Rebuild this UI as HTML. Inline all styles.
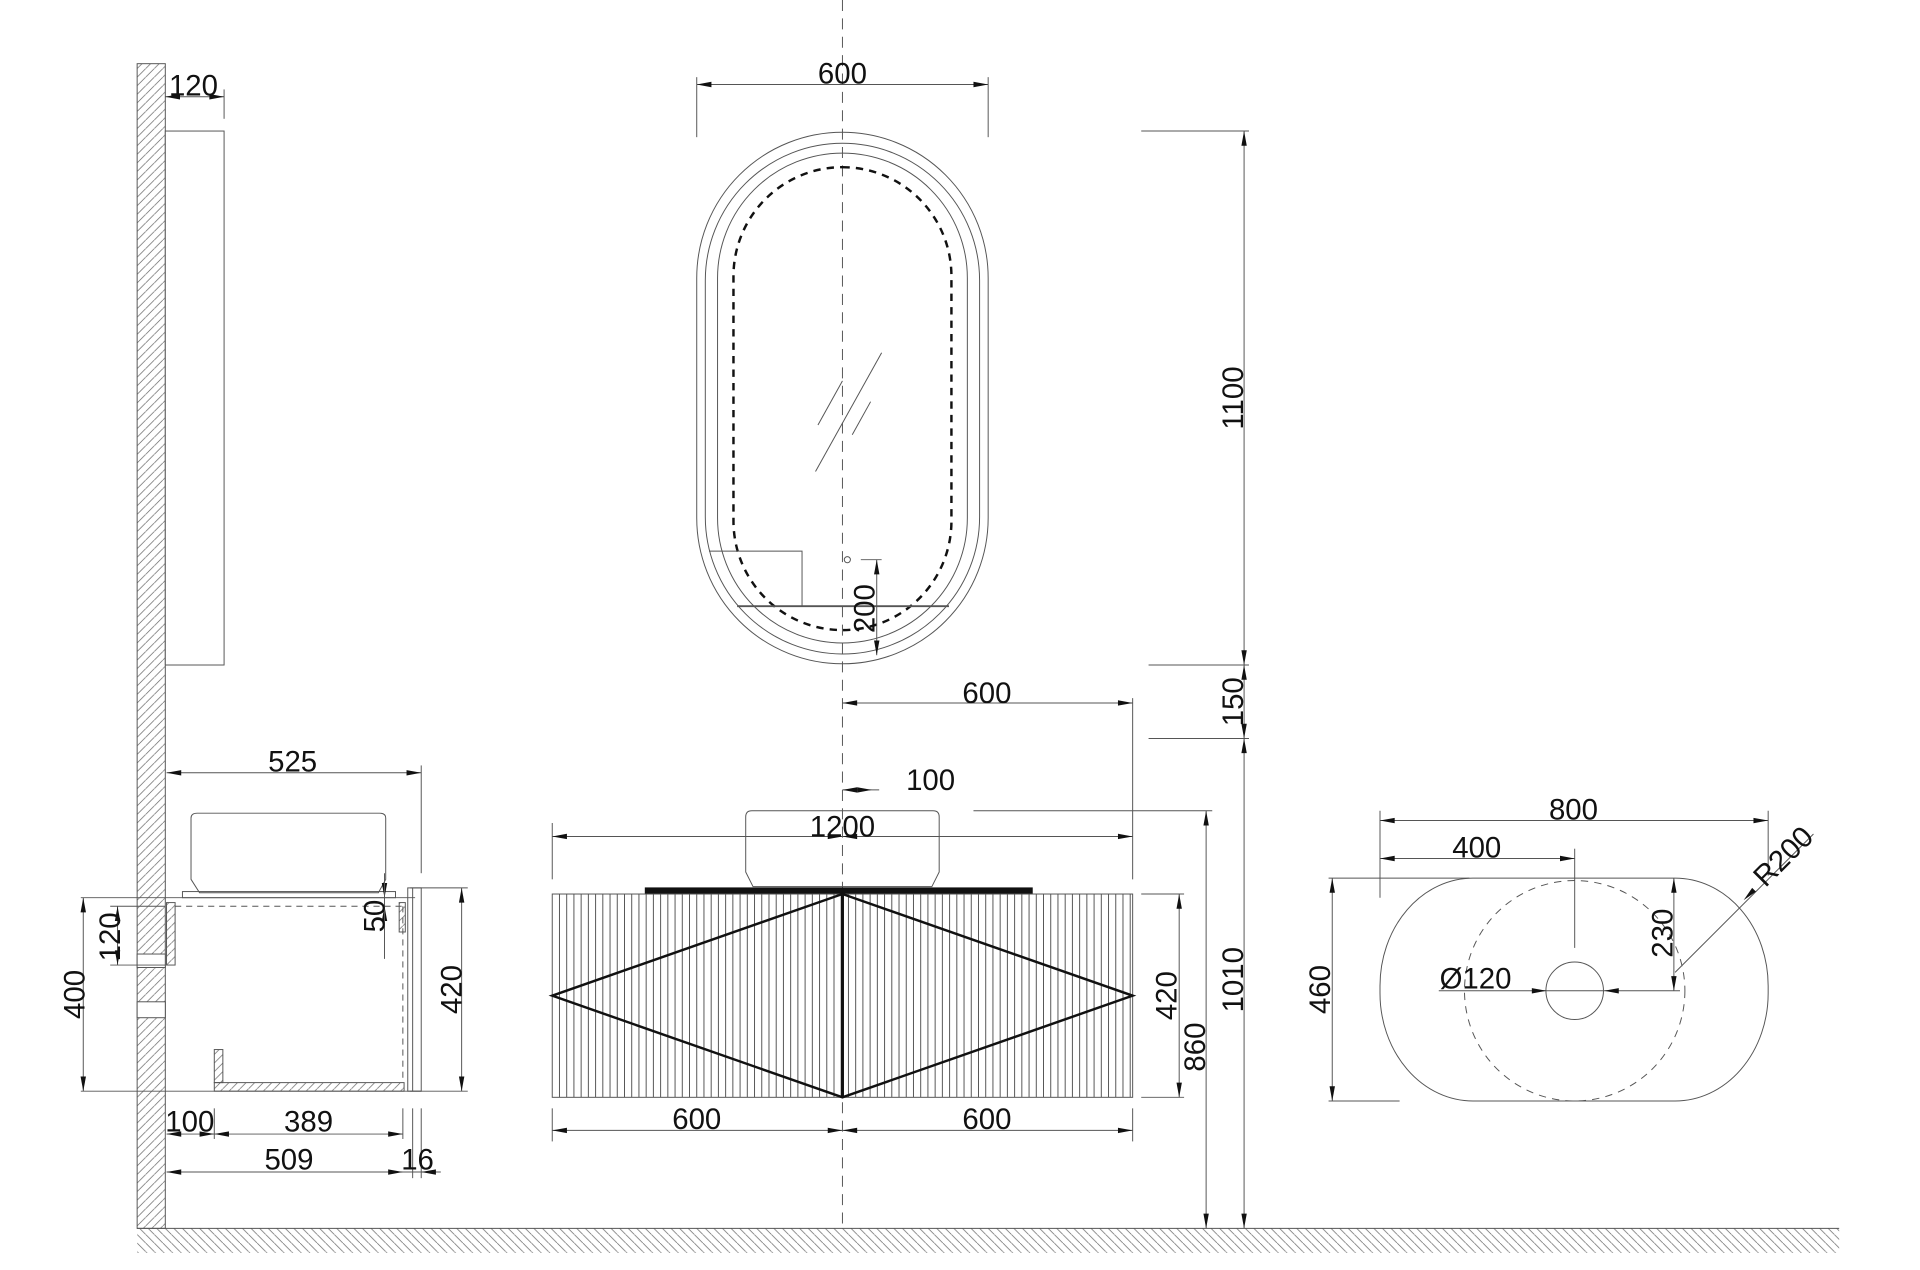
<!DOCTYPE html>
<html><head><meta charset="utf-8"><style>
html,body{margin:0;padding:0;background:#fff;width:1920px;height:1270px;overflow:hidden}
svg{display:block}
text{font-family:"Liberation Sans",Arial,sans-serif;font-size:24px;fill:#111}
</style></head><body>
<svg id="s" width="1920" height="1270" viewBox="0 0 1568 1037" preserveAspectRatio="none" xmlns="http://www.w3.org/2000/svg">
<defs>
<pattern id="hw" width="7" height="7" patternUnits="userSpaceOnUse"><path d="M-1,8 L8,-1" stroke="#666" stroke-width="0.6"/></pattern>
<pattern id="hg" width="7" height="7" patternUnits="userSpaceOnUse"><path d="M-1,-1 L8,8" stroke="#666" stroke-width="0.6"/></pattern>
</defs>
<g id="g" fill="none" stroke="#555" stroke-width="0.8">
<rect x="112" y="52" width="23" height="951" fill="url(#hw)" stroke="#555"/>
<rect x="112" y="1003" width="1390" height="20" fill="url(#hg)" stroke="none"/>
<line x1="112" y1="1003" x2="1502" y2="1003"/>
<rect x="112" y="779" width="23" height="11" fill="#fff" stroke="#555"/>
<rect x="112" y="818" width="23" height="13" fill="#fff" stroke="#555"/>
<rect x="135" y="107" width="48" height="436" fill="#fff"/>
<line x1="183" y1="73" x2="183" y2="97"/>
<line x1="688" y1="0" x2="688" y2="1003" stroke-dasharray="9,6"/>
<rect x="569" y="108" width="238" height="434" rx="119" ry="119"/>
<rect x="576" y="117" width="224" height="417" rx="112" ry="112"/>
<rect x="586" y="125" width="204" height="400" rx="102" ry="102"/>
<rect x="599" y="136.5" width="178" height="378" rx="89" ry="89" stroke="#111" stroke-width="2" stroke-dasharray="6,5"/>
<line x1="666" y1="385" x2="720" y2="288"/>
<line x1="668" y1="347" x2="688" y2="311"/>
<line x1="696" y1="355" x2="711" y2="328"/>
<polyline points="579,450 655,450 655,495"/>
<line x1="602" y1="495" x2="775" y2="495" stroke-width="1.5"/>
<circle cx="692" cy="457" r="2.5"/>
<line x1="703" y1="457" x2="720" y2="457"/>
<line x1="569" y1="63" x2="569" y2="112"/>
<line x1="807" y1="63" x2="807" y2="112"/>
<line x1="932" y1="107" x2="1020" y2="107"/>
<line x1="938" y1="543" x2="1020" y2="543"/>
<line x1="938" y1="603" x2="1020" y2="603"/>
<line x1="925" y1="570" x2="925" y2="718"/>
<line x1="451" y1="672" x2="451" y2="718"/>
<path d="M609,667 Q609,662 614,662 L762,662 Q767,662 767,667 L767,712 L761,724 L615,724 L609,712 Z"/>
<line x1="795" y1="662" x2="990" y2="662"/>
<rect x="527" y="725" width="316" height="5" fill="#111" stroke="#111"/>
<g id="flutes"></g>
<rect x="451" y="730" width="474" height="166"/>
<polygon points="451,813 688,730 925,813 688,896" stroke="#111" stroke-width="2"/>
<line x1="688" y1="730" x2="688" y2="896" stroke="#111" stroke-width="2.5"/>
<line x1="932" y1="730" x2="967" y2="730"/>
<line x1="932" y1="896" x2="967" y2="896"/>
<line x1="451" y1="905" x2="451" y2="932"/>
<line x1="925" y1="905" x2="925" y2="932"/>
<line x1="344" y1="625" x2="344" y2="713"/>
<path d="M156,668 Q156,664 161,664 L310,664 Q315,664 315,668 L315,718 L309,729 L163,729 L156,718 Z"/>
<rect x="149" y="728" width="174" height="5"/>
<line x1="135" y1="733" x2="339" y2="733"/>
<line x1="143" y1="740" x2="330" y2="740" stroke-dasharray="5,4"/>
<line x1="329" y1="740" x2="329" y2="884" stroke-dasharray="5,4"/>
<rect x="333" y="725" width="11" height="166"/>
<line x1="337" y1="725" x2="337" y2="891"/>
<line x1="135" y1="891" x2="344" y2="891"/>
<rect x="175" y="884" width="155" height="7" fill="url(#hw)"/>
<rect x="175" y="857" width="7" height="27" fill="url(#hw)"/>
<rect x="136" y="737" width="7" height="51" fill="url(#hw)"/>
<rect x="326" y="737" width="5" height="24" fill="url(#hw)"/>
<line x1="90" y1="740" x2="135" y2="740"/>
<line x1="90" y1="788" x2="135" y2="788"/>
<line x1="66" y1="733" x2="135" y2="733"/>
<line x1="66" y1="891" x2="135" y2="891"/>
<line x1="335" y1="725" x2="382" y2="725"/>
<line x1="335" y1="891" x2="382" y2="891"/>
<line x1="175" y1="905" x2="175" y2="930"/>
<line x1="329" y1="905" x2="329" y2="930"/>
<line x1="337" y1="905" x2="337" y2="962"/>
<line x1="344" y1="905" x2="344" y2="962"/>
<rect x="1127" y="717" width="317" height="182" rx="76" ry="88"/>
<circle cx="1286" cy="809" r="90" stroke-dasharray="6,5"/>
<circle cx="1286" cy="809" r="23.5"/>
<line x1="1127" y1="662" x2="1127" y2="733"/>
<line x1="1444" y1="662" x2="1444" y2="715"/>
<line x1="1286" y1="693" x2="1286" y2="774"/>
<line x1="1085" y1="717" x2="1200" y2="717"/>
<line x1="1085" y1="899" x2="1143" y2="899"/>
<line x1="1175" y1="809" x2="1372" y2="809"/>
<line x1="1368" y1="794" x2="1481" y2="681"/>
</g>
<g id="d"></g>
<g id="t">
<text x="158" y="78" text-anchor="middle">120</text>
<text x="688" y="68" text-anchor="middle">600</text>
<text transform="translate(1015,325) rotate(-90)" text-anchor="middle">1100</text>
<text transform="translate(1015,573) rotate(-90)" text-anchor="middle">150</text>
<text transform="translate(1015,800) rotate(-90)" text-anchor="middle">1010</text>
<text transform="translate(714,497) rotate(-90)" text-anchor="middle">200</text>
<text x="806" y="574" text-anchor="middle">600</text>
<text x="760" y="645" text-anchor="middle">100</text>
<text x="688" y="683" text-anchor="middle">1200</text>
<text transform="translate(961,813) rotate(-90)" text-anchor="middle">420</text>
<text transform="translate(984,855) rotate(-90)" text-anchor="middle">860</text>
<text x="569" y="922" text-anchor="middle">600</text>
<text x="806" y="922" text-anchor="middle">600</text>
<text x="239" y="630" text-anchor="middle">525</text>
<text transform="translate(98,765) rotate(-90)" text-anchor="middle">120</text>
<text transform="translate(69,812) rotate(-90)" text-anchor="middle">400</text>
<text transform="translate(314,748) rotate(-90)" text-anchor="middle">50</text>
<text transform="translate(377,808) rotate(-90)" text-anchor="middle">420</text>
<text x="155" y="924" text-anchor="middle">100</text>
<text x="252" y="924" text-anchor="middle">389</text>
<text x="236" y="955" text-anchor="middle">509</text>
<text x="341" y="955" text-anchor="middle">16</text>
<text x="1285" y="669" text-anchor="middle">800</text>
<text x="1206" y="700" text-anchor="middle">400</text>
<text transform="translate(1086,808) rotate(-90)" text-anchor="middle">460</text>
<text transform="translate(1366,762) rotate(-90)" text-anchor="middle">230</text>
<text x="1205" y="807" text-anchor="middle">Ø120</text>
<text transform="translate(1462,705) rotate(-45)" text-anchor="middle">R200</text>
</g>
</svg>
<script>
var NS="http://www.w3.org/2000/svg";
var fl=document.getElementById('flutes');
for(var x=451+5.9;x<925;x+=5.9){var l=document.createElementNS(NS,'line');l.setAttribute('x1',x);l.setAttribute('x2',x);l.setAttribute('y1',730);l.setAttribute('y2',896);fl.appendChild(l);}
var d=document.getElementById('d');
function el(n,a){var e=document.createElementNS(NS,n);for(var k in a)e.setAttribute(k,a[k]);d.appendChild(e);return e;}
function arrow(x,y,dx,dy){var L=12,W=2.2;var px=-dy,py=dx;el('polygon',{points:x+','+y+' '+(x-dx*L+px*W)+','+(y-dy*L+py*W)+' '+(x-dx*L-px*W)+','+(y-dy*L-py*W),fill:'#111'});}
function dim(x1,y1,x2,y2,lx1,ly1,lx2,ly2){
 el('line',{x1:lx1!==undefined?lx1:x1,y1:ly1!==undefined?ly1:y1,x2:lx2!==undefined?lx2:x2,y2:ly2!==undefined?ly2:y2,stroke:'#555','stroke-width':0.8});
 var dx=x2-x1,dy=y2-y1,m=Math.sqrt(dx*dx+dy*dy);dx/=m;dy/=m;
 arrow(x2,y2,dx,dy);arrow(x1,y1,-dx,-dy);}
dim(135,79,183,79);
dim(569,69,807,69);
dim(1016,107,1016,543);
dim(1016,543,1016,603);
dim(1016,603,1016,1003);
dim(716,457,716,535);
dim(688,574,925,574);
dim(688,683,925,683);dim(451,683,688,683);
dim(985,662,985,1003);
dim(963,730,963,896);
dim(451,923,688,923);dim(688,923,925,923);
dim(136,631,344,631);
dim(96,740,96,788);
dim(68,733,68,891);
dim(377,725,377,891);
dim(136,926,175,926);dim(175,926,329,926);
dim(136,957,329,957,136,957,360,957);
el('line',{x1:688,y1:645,x2:718,y2:645,stroke:'#555','stroke-width':0.8});
arrow(688,645,-1,0);arrow(712,645,1,0);
arrow(314,733,0,1);arrow(314,740,0,-1);
el('line',{x1:314,y1:713,x2:314,y2:783,stroke:'#555','stroke-width':0.8});
arrow(344,957,-1,0);
dim(1127,670,1444,670);
dim(1127,701,1286,701);
dim(1088,717,1088,899);
dim(1367,717,1367,809);
arrow(1263,809,1,0);arrow(1310,809,-1,0);
arrow(1424,735,-0.707,0.707);
</script>
</body></html>
